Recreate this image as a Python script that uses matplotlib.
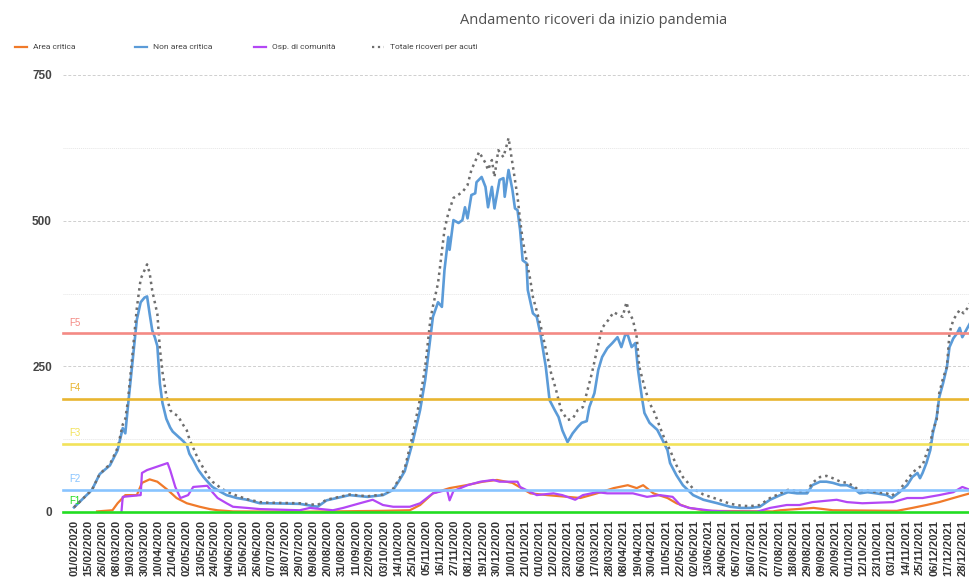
import datetime as dt
import matplotlib
matplotlib.use("Agg")
import matplotlib.pyplot as plt
from matplotlib.lines import Line2D
from matplotlib.ticker import MultipleLocator

# giorni = indice sull'asse (0 = 01/02/2020, poi 05/02/2020 + i - 1)
area_critica_giorni = [18, 30, 34, 40, 49, 53, 59, 65, 73, 80, 88, 98, 106, 112, 124, 180, 241, 262, 270, 280,
                       293, 306, 319, 330, 342, 356, 369, 385, 395, 408, 421, 432, 439, 444, 452, 463, 470, 480, 494, 545,
                       551, 577, 592, 642, 654, 665, 675, 686, 694, 699]
area_critica = [1, 3, 15, 29, 29, 50, 56, 52, 38, 24, 15, 9, 5, 3, 1, 0.5, 2, 3, 12, 32,
                41, 46, 52, 55, 50, 32, 29, 26, 24, 32, 41, 46, 41, 46, 32, 24, 15, 7, 2, 1,
                3, 7, 3, 2, 7, 12, 17, 24, 29, 32]

non_area_giorni = [0, 8, 14, 20, 28, 34, 38, 40, 42, 46, 49, 52, 55, 57, 59, 61, 63, 65, 67, 69,
                   72, 75, 77, 81, 85, 88, 90, 93, 97, 101, 105, 108, 114, 119, 127, 135, 145, 151, 176, 190,
                   197, 215, 229, 241, 249, 254, 258, 264, 270, 274, 278, 280, 284, 287, 289, 292, 293, 296, 300, 303,
                   305, 307, 310, 313, 314, 318, 321, 323, 326, 328, 332, 335, 336, 339, 342, 344, 346, 348, 350, 353,
                   354, 358, 361, 364, 368, 371, 375, 378, 381, 385, 389, 393, 396, 400, 402, 406, 409, 412, 416, 420,
                   422, 424, 427, 430, 432, 435, 438, 440, 443, 445, 449, 455, 459, 463, 465, 470, 475, 483, 491, 502,
                   512, 520, 527, 535, 543, 551, 557, 564, 572, 576, 582, 587, 592, 598, 603, 608, 613, 619, 626, 634,
                   638, 644, 650, 654, 658, 660, 662, 665, 668, 670, 673, 675, 678, 681, 683, 686, 689, 691, 693, 697,
                   699]
non_area_critica = [8, 25, 38, 65, 80, 106, 144, 135, 180, 266, 330, 360, 368, 370, 340, 312, 300, 285, 220, 187,
                    160, 145, 138, 130, 122, 115, 100, 89, 72, 60, 50, 43, 35, 29, 24, 21, 15, 15, 14, 9,
                    20, 29, 26, 29, 38, 55, 70, 118, 175, 227, 300, 335, 360, 352, 415, 472, 450, 501, 496, 501,
                    523, 504, 544, 547, 566, 575, 558, 523, 558, 521, 570, 573, 541, 587, 553, 521, 518, 484, 432, 427,
                    381, 341, 335, 304, 250, 192, 175, 163, 140, 120, 135, 146, 153, 156, 180, 204, 244, 266, 281, 290,
                    295, 300, 283, 304, 304, 283, 290, 244, 197, 170, 153, 141, 124, 106, 84, 63, 46, 29, 21, 15,
                    9, 7, 7, 9, 21, 29, 34, 32, 32, 46, 52, 52, 50, 46, 46, 41, 32, 34, 32, 29,
                    24, 34, 46, 60, 67, 58, 67, 84, 106, 135, 163, 197, 221, 249, 283, 298, 307, 316, 300, 316,
                    324]

osp_comunita_giorni = [37, 38, 52, 53, 57, 65, 73, 75, 79, 83, 89, 93, 104, 108, 112, 119, 124, 135, 145, 176,
                       184, 202, 210, 223, 233, 241, 249, 262, 270, 280, 291, 293, 296, 307, 317, 327, 332, 346, 348, 361,
                       374, 381, 391, 397, 408, 416, 426, 436, 447, 457, 467, 473, 480, 498, 514, 533, 543, 556, 566, 576,
                       595, 603, 615, 639, 650, 662, 675, 686, 693, 699]
osp_comunita = [0, 26, 29, 67, 72, 78, 84, 72, 43, 24, 29, 43, 45, 34, 24, 15, 9, 7, 5, 3,
                7, 3, 7, 15, 21, 12, 9, 9, 15, 32, 38, 20, 36, 46, 52, 55, 52, 52, 43, 29,
                32, 29, 21, 29, 34, 32, 32, 32, 26, 29, 26, 12, 7, 2, 0.5, 0.5, 7, 12, 12, 17,
                21, 17, 15, 17, 24, 24, 29, 34, 43, 38]

totale_giorni = [0, 8, 14, 20, 28, 34, 38, 40, 42, 46, 49, 52, 55, 57, 59, 61, 63, 65, 67, 69,
                 72, 75, 77, 81, 85, 88, 90, 93, 97, 101, 105, 108, 114, 119, 127, 135, 145, 151, 176, 190,
                 197, 215, 229, 241, 249, 254, 258, 264, 270, 274, 278, 280, 284, 289, 292, 296, 303, 307, 310, 314,
                 316, 321, 323, 326, 328, 331, 335, 338, 339, 342, 344, 346, 348, 350, 353, 356, 358, 361, 364, 368,
                 372, 376, 380, 385, 389, 393, 397, 400, 404, 408, 412, 417, 421, 425, 428, 431, 433, 436, 439, 441,
                 445, 449, 453, 457, 461, 465, 470, 475, 483, 491, 502, 512, 520, 527, 535, 543, 551, 557, 564, 572,
                 576, 582, 587, 592, 598, 603, 608, 613, 619, 626, 634, 638, 644, 650, 654, 658, 662, 665, 668, 670,
                 673, 675, 678, 681, 683, 686, 689, 691, 694, 697, 699]
totale_acuti = [8, 25, 38, 65, 82, 110, 150, 160, 190, 280, 350, 400, 415, 425, 410, 380, 360, 340, 280, 240,
                200, 175, 170, 165, 150, 140, 125, 110, 90, 75, 60, 52, 42, 35, 28, 22, 17, 16, 15, 12,
                21, 30, 27, 30, 40, 58, 75, 130, 195, 250, 330, 353, 393, 484, 513, 539, 549, 561, 587, 607,
                618, 599, 587, 604, 575, 621, 609, 633, 642, 599, 570, 541, 501, 467, 432, 398, 369, 345, 320, 280,
                240, 210, 175, 158, 160, 175, 180, 204, 238, 278, 316, 330, 343, 338, 335, 360, 343, 330, 300, 249,
                215, 187, 170, 146, 124, 106, 80, 60, 40, 30, 22, 14, 11, 10, 12, 24, 32, 38, 36, 36,
                50, 60, 62, 58, 52, 50, 45, 36, 37, 34, 32, 28, 38, 55, 67, 75, 80, 100, 118, 140,
                158, 204, 230, 249, 307, 330, 340, 347, 341, 350, 358]

soglie_nomi = ["F1", "F2", "F3", "F4", "F5"]
soglie_valori = [0, 38, 117, 194, 307]
soglie_colori = ["#22dd22", "#88c4ff", "#f2e25a", "#e8b530", "#f48a84"]

inizio = dt.date(2020, 2, 4)
tick_pos = list(range(0, 700, 11))
tick_lab = ["01/02/2020" if i == 0 else (inizio + dt.timedelta(days=i)).strftime("%d/%m/%Y") for i in tick_pos]

plt.rcParams['font.family'] = ['Liberation Sans', 'DejaVu Sans']

fig = plt.figure(figsize=(9.7, 5.79), dpi=100)
ax = fig.add_axes([63 / 970, 67 / 579, 907 / 970, 437 / 579])

c_or = "#f07a2a"
c_bl = "#5b9bd8"
c_vi = "#b347f5"
c_gr = "#6e6e6e"

ax.plot(area_critica_giorni, area_critica, color=c_or, lw=1.6, zorder=3)
ax.plot(non_area_giorni, non_area_critica, color=c_bl, lw=1.9, zorder=3)
ax.plot(osp_comunita_giorni, osp_comunita, color=c_vi, lw=1.6, zorder=3)
ax.plot(totale_giorni, totale_acuti, color=c_gr, lw=1.8, ls=(0, (1, 1.6)), zorder=4)

for nome, val, col in zip(soglie_nomi, soglie_valori, soglie_colori):
    ax.axhline(val, color=col, lw=1.9, zorder=5, clip_on=False)
    ax.annotate(nome, xy=(-3.5, val), xytext=(0, 4), textcoords="offset points",
                color=col, fontsize=7, ha="left", va="bottom")

ax.set_xlim(-8.6, 699)
ax.set_ylim(0, 750)
ax.yaxis.set_major_locator(MultipleLocator(250))
ax.yaxis.set_minor_locator(MultipleLocator(125))
ax.grid(axis="y", which="major", color="#cfcfcf", ls=(0, (3, 2)), lw=0.7)
ax.grid(axis="y", which="minor", color="#e6e6e6", ls=(0, (1, 1)), lw=0.7)
ax.set_axisbelow(True)
for s in ax.spines.values():
    s.set_visible(False)

ax.set_xticks(tick_pos)
ax.set_xticklabels(tick_lab, rotation=90, fontsize=8, fontweight="bold", color="#333333")
ax.tick_params(axis="x", length=0, pad=5.5)
ax.tick_params(axis="y", which="both", length=0, pad=8, labelsize=8.5, labelcolor="#444444")
for t in ax.get_yticklabels():
    t.set_fontweight("bold")

fig.text(594 / 970, 1 - 20 / 579, "Andamento ricoveri da inizio pandemia", ha="center", va="center",
         fontsize=10.5, color="#505050", family=["Open Sans", "DejaVu Sans"])

leg_items = [("Area critica", c_or, "-", 15), ("Non area critica", c_bl, "-", 135),
             ("Osp. di comunità", c_vi, "-", 254), ("Totale ricoveri per acuti", c_gr, ":", 372)]
yl = 1 - 47 / 579
for testo, col, st, x0 in leg_items:
    fig.add_artist(Line2D([x0 / 970, (x0 + 12) / 970], [yl, yl], color=col, lw=1.6,
                          ls=st, transform=fig.transFigure))
    fig.text((x0 + 18) / 970, yl, testo, fontsize=6, color="#444444", va="center",
             family=["Roboto", "DejaVu Sans"])

fig.savefig("out.png", dpi=100)
